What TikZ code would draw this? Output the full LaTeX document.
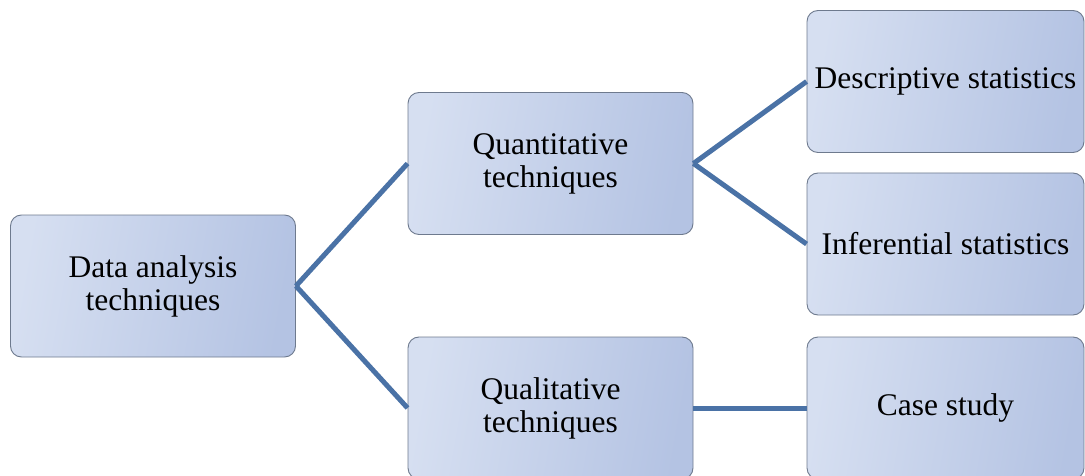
\documentclass[tikz,border=0pt]{standalone}
\usepackage{fontspec}
\setmainfont{Liberation Serif}
\definecolor{boxlight}{HTML}{D6DFF1}
\definecolor{boxdark}{HTML}{B4C3E3}
\definecolor{boxedge}{HTML}{6E7A8E}
\definecolor{linkblue}{HTML}{4A72A6}
\tikzset{
  box/.style={draw=boxedge, line width=0.9pt, rounded corners=11pt,
    left color=boxlight, right color=boxdark, shading angle=80,
    minimum width=285pt, minimum height=142pt, inner sep=0pt,
    align=center, font=\fontsize{31.5}{33}\selectfont},
  leafbox/.style={box, minimum width=277pt},
  link/.style={draw=linkblue, line width=5pt}
}
\begin{document}
\begin{tikzpicture}[x=1pt,y=-1pt]
  \clip (0,0) rectangle (1085,476);
  % tree boxes
  \node[box] (root) at (153,286) {Data analysis\\techniques};
  \node[box] (quant) at (550.5,163.5) {Quantitative\\techniques};
  \node[box] (qual) at (550.5,408) {Qualitative\\techniques};
  \node[leafbox] (desc) at (945.5,81.5) {Descriptive statistics};
  \node[leafbox] (infer) at (945.5,244) {Inferential statistics};
  \node[leafbox] (case) at (945.5,408) {Case study};
  % connectors
  \draw[link] (root.east) -- (quant.west);
  \draw[link] (root.east) -- (qual.west);
  \draw[link] (quant.east) -- (desc.west);
  \draw[link] (quant.east) -- (infer.west);
  \draw[link] (qual.east) -- (case.west);
\end{tikzpicture}
\end{document}
